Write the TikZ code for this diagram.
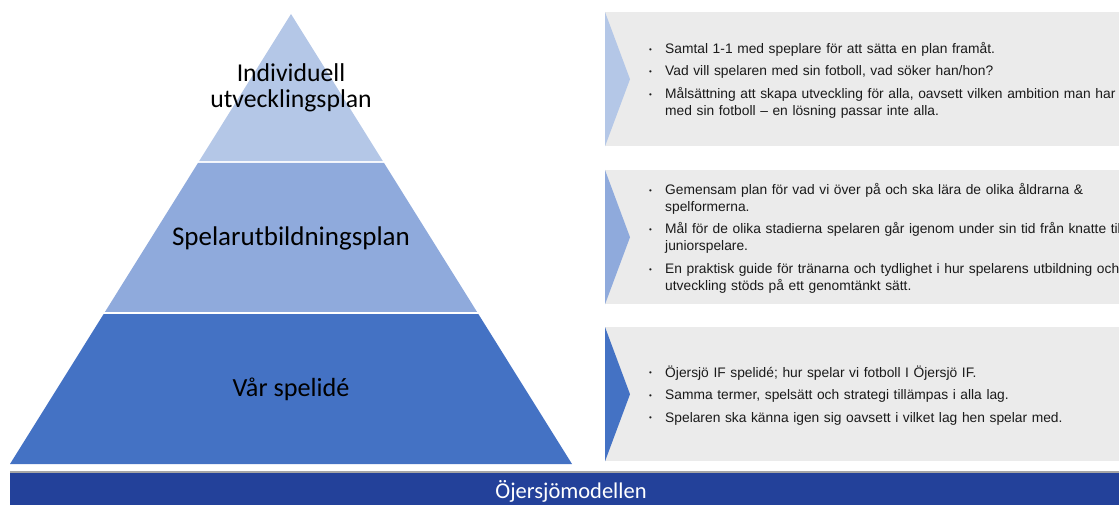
\documentclass[tikz,border=0pt]{standalone}
\usepackage{fontspec}
\setmainfont{Carlito}
\newfontfamily\arialfont{Liberation Sans}
\usetikzlibrary{positioning,calc}
\definecolor{tierlight}{HTML}{B4C7E7}
\definecolor{tiermid}{HTML}{8FAADC}
\definecolor{tierdark}{HTML}{4472C4}
\definecolor{boxgray}{HTML}{EBEBEB}
\definecolor{barblue}{HTML}{23419A}
\definecolor{bargray}{HTML}{A6A6A6}
\definecolor{listink}{HTML}{1A1A1A}

% one bullet point with hanging indent
\newcommand{\bpoint}[1]{\hangindent=16pt\hangafter=1\noindent\makebox[16pt][l]{\raisebox{1.2pt}{\fontsize{8}{8}\selectfont •}}#1\par}

\tikzset{
  tierlabel/.style={align=center, text=black, inner sep=0pt},
  infobox/.style={fill=boxgray, minimum width=520pt, minimum height=134pt, anchor=north west, inner sep=0pt},
  listtext/.style={anchor=west, text width=560pt, inner sep=0pt, align=left, text=listink,
    font=\arialfont\fontsize{13.8}{17}\selectfont\setlength{\parskip}{5.5pt}},
}

\begin{document}
\begin{tikzpicture}[x=1pt,y=-1pt]
  \path[use as bounding box] (0,0) rectangle (1119,505);
  \clip (0,0) rectangle (1119,505);

  % Pyramid
  \coordinate (apex) at (291,14);
  \coordinate (baseL) at (10,464);
  \coordinate (baseR) at (572,464);
  \fill[tierlight] (apex) -- ($(apex)!0.3267!(baseR)$) -- ($(apex)!0.3267!(baseL)$) -- cycle;
  \fill[tiermid] ($(apex)!0.3311!(baseL)$) -- ($(apex)!0.3311!(baseR)$)
    -- ($(apex)!0.6622!(baseR)$) -- ($(apex)!0.6622!(baseL)$) -- cycle;
  \fill[tierdark] ($(apex)!0.6667!(baseL)$) -- ($(apex)!0.6667!(baseR)$) -- (baseR) -- (baseL) -- cycle;

  \node[tierlabel, font=\fontsize{25.7}{26.5}\selectfont] (tierTop) at (291,88) {Individuell\\utvecklingsplan};
  \node[tierlabel, font=\fontsize{27}{29}\selectfont] (tierMid) at (291,238) {Spelarutbildningsplan};
  \node[tierlabel, font=\fontsize{26.2}{28}\selectfont] (tierLow) at (291,389) {Vår spelidé};

  % Text boxes
  \node[infobox] (boxTop) at (605,12) {};
  \node[infobox] (boxMid) at (605,170) {};
  \node[infobox] (boxLow) at (605,327) {};

  \fill[tierlight] (boxTop.north west) -- ($(boxTop.west)+(25,0)$) -- (boxTop.south west) -- cycle;
  \fill[tiermid] (boxMid.north west) -- ($(boxMid.west)+(25,0)$) -- (boxMid.south west) -- cycle;
  \fill[tierdark] (boxLow.north west) -- ($(boxLow.west)+(25,0)$) -- (boxLow.south west) -- cycle;

  \node[listtext] (listTop) at ($(boxTop.west)+(44,1)$) {%
    \bpoint{Samtal 1-1 med speplare för att sätta en plan framåt.}
    \bpoint{Vad vill spelaren med sin fotboll, vad söker han/hon?}
    \bpoint{Målsättning att skapa utveckling för alla, oavsett vilken ambition man har\newline med sin fotboll – en lösning passar inte alla.}};
  \node[listtext] (listMid) at ($(boxMid.west)+(44,1)$) {%
    \bpoint{Gemensam plan för vad vi över på och ska lära de olika åldrarna \&\newline spelformerna.}
    \bpoint{Mål för de olika stadierna spelaren går igenom under sin tid från knatte till\newline juniorspelare.}
    \bpoint{En praktisk guide för tränarna och tydlighet i hur spelarens utbildning och\newline utveckling stöds på ett genomtänkt sätt.}};
  \node[listtext] (listLow) at ($(boxLow.west)+(44,1)$) {%
    \bpoint{Öjersjö IF spelidé; hur spelar vi fotboll I Öjersjö IF.}
    \bpoint{Samma termer, spelsätt och strategi tillämpas i alla lag.}
    \bpoint{Spelaren ska känna igen sig oavsett i vilket lag hen spelar med.}};

  % Bottom bar
  \node[fill=barblue, anchor=north west, minimum width=1109pt, minimum height=33pt, inner sep=0pt] (bar) at (10,472) {};
  \draw[bargray, line width=1.5pt] (bar.north west) -- (bar.north east);
  \node[anchor=base, text=white, font=\fontsize{22.5}{24}\selectfont, inner sep=0pt] (barLabel) at (571,498) {Öjersjömodellen};
\end{tikzpicture}
\end{document}
